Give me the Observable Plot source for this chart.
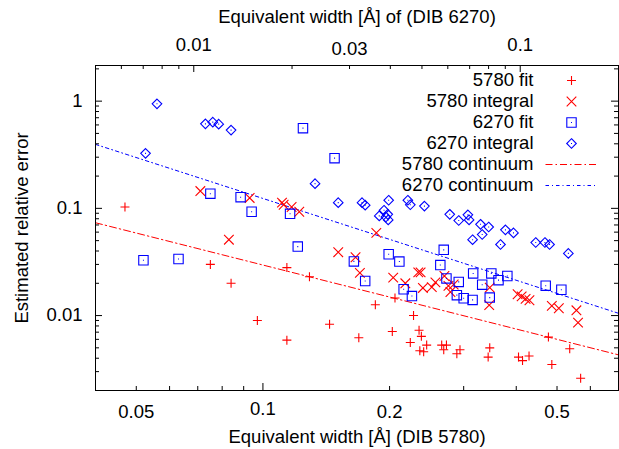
<!DOCTYPE html>
<html>
<head>
<meta charset="utf-8">
<script src="https://cdn.jsdelivr.net/npm/d3@7"></script>
<script src="https://cdn.jsdelivr.net/npm/@observablehq/plot@0.6"></script>
<style>
  body { margin: 0; background: #fff; }
  #chart svg { display: block; }
</style>
</head>
<body>
<div id="chart"></div>
<script>
// DIB 5780: equivalent width [Å] and estimated relative error, Gaussian fit
const fit5780W = [0.047, 0.075, 0.084, 0.097, 0.114, 0.114, 0.129, 0.144, 0.169, 0.185, 0.203,
  0.206, 0.228, 0.224, 0.235, 0.238, 0.236, 0.241, 0.245, 0.266, 0.273, 0.269, 0.294, 0.289,
  0.346, 0.343, 0.405, 0.414, 0.429, 0.477, 0.486, 0.536, 0.569];
const fit5780Err = [0.103, 0.030, 0.020, 0.0090, 0.0059, 0.028, 0.023, 0.0083, 0.0062, 0.0126, 0.0071,
  0.0146, 0.0100, 0.0056, 0.0073, 0.0064, 0.0047, 0.0046, 0.0053, 0.0053, 0.0053, 0.0048, 0.0048, 0.0044,
  0.0050, 0.0041, 0.0041, 0.0038, 0.0042, 0.0063, 0.0035, 0.0049, 0.0026];

// DIB 5780, direct integration
const int5780W = [0.071, 0.093, 0.083, 0.111, 0.112, 0.117, 0.122, 0.151, 0.166, 0.170, 0.186,
  0.204, 0.218, 0.234, 0.237, 0.240, 0.252, 0.257, 0.270, 0.276, 0.279, 0.284, 0.346, 0.345,
  0.403, 0.412, 0.421, 0.430, 0.486, 0.505, 0.556, 0.561];
const int5780Err = [0.145, 0.125, 0.051, 0.113, 0.108, 0.103, 0.093, 0.039, 0.035, 0.025, 0.059,
  0.0226, 0.020, 0.0253, 0.0253, 0.0181, 0.0184, 0.0204, 0.0234, 0.0189, 0.0166, 0.0195, 0.0182, 0.0125,
  0.0158, 0.0151, 0.0143, 0.0139, 0.0123, 0.0117, 0.0112, 0.0086];

// DIB 6270 errors, placed at the DIB 5780 width of the same sightline, Gaussian fit
const fit6270W = [0.052, 0.063, 0.075, 0.0885, 0.094, 0.116, 0.121, 0.1245, 0.148, 0.1645, 0.175,
  0.199, 0.211, 0.216, 0.226, 0.269, 0.264, 0.273, 0.292, 0.289, 0.300, 0.315, 0.316, 0.332,
  0.349, 0.363, 0.381, 0.346, 0.470, 0.512];
const fit6270Err = [0.0328, 0.0337, 0.137, 0.127, 0.093, 0.089, 0.044, 0.56, 0.294, 0.032, 0.021,
  0.0373, 0.0319, 0.0176, 0.0152, 0.041, 0.0296, 0.0222, 0.0206, 0.0155, 0.0145, 0.0140, 0.0247, 0.0194,
  0.0247, 0.0214, 0.0234, 0.0147, 0.0190, 0.0174];

// DIB 6270, direct integration
const int6270W = [0.0526, 0.056, 0.073, 0.076, 0.0785, 0.084, 0.133, 0.151, 0.172, 0.175, 0.199,
  0.221, 0.224, 0.242, 0.189, 0.194, 0.196, 0.198, 0.1985, 0.278, 0.292, 0.307, 0.309, 0.329,
  0.344, 0.332, 0.315, 0.377, 0.394, 0.367, 0.445, 0.468, 0.480, 0.532];
const int6270Err = [0.326, 0.944, 0.614, 0.637, 0.61, 0.537, 0.170, 0.113, 0.113, 0.107, 0.119,
  0.119, 0.108, 0.105, 0.085, 0.096, 0.083, 0.088, 0.078, 0.088, 0.077, 0.087, 0.078, 0.071,
  0.067, 0.057, 0.051, 0.063, 0.059, 0.046, 0.048, 0.048, 0.046, 0.038];

// Continuum-noise limits (straight lines in log-log space), end points
const cont5780W = [0.04, 0.7];
const cont5780Err = [0.0734, 0.0043];
const cont6270W = [0.04, 0.7];
const cont6270Err = [0.395, 0.0105];

// Axis ranges and ticks
const xDomain = [0.04, 0.7];         // DIB 5780 width, bottom axis
const topDomain = [0.005, 0.2];      // DIB 6270 width, top axis
const yDomain = [0.002, 2.15];
const bottomLabels = [0.05, 0.2, 0.5];
const bottomMajorLabels = [0.1];
const bottomMinorTicks = [0.05, 0.06, 0.07, 0.08, 0.09, 0.2, 0.3, 0.4, 0.5, 0.6];
const bottomMajorTicks = [0.1];
const topMajorLabels = [0.01, 0.1];
const topLabels = [0.03];
const topMinorTicks = [0.006, 0.007, 0.008, 0.009, 0.02, 0.03, 0.04, 0.05, 0.06, 0.07, 0.08, 0.09];
const topMajorTicks = [0.01, 0.1];
const yLabels = [0.01, 0.1, 1];
const yMajorTicks = [0.01, 0.1, 1];
const yMinorTicks = [0.003, 0.004, 0.005, 0.006, 0.007, 0.008, 0.009,
  0.02, 0.03, 0.04, 0.05, 0.06, 0.07, 0.08, 0.09,
  0.2, 0.3, 0.4, 0.5, 0.6, 0.7, 0.8, 0.9, 2];

const legendLabels = ["5780 fit", "5780 integral", "6270 fit", "6270 integral", "5780 continuum", "6270 continuum"];

const RED = "#ff0000";
const BLUE = "#0000ff";
const FONT = "'Liberation Sans', Arial, Helvetica, sans-serif";
const FS = 18.5;

const W = 619, H = 449;
const mL = 95, mR = 1, mT = 65, mB = 59;
const fw = W - mL - mR, fh = H - mT - mB;

// top axis shares the frame width: map a DIB 6270 width onto the bottom (DIB 5780) log scale
const toBottom = t => xDomain[0] * Math.pow(xDomain[1] / xDomain[0],
  Math.log(t / topDomain[0]) / Math.log(topDomain[1] / topDomain[0]));

const rows = (ws, es) => ws.map((w, i) => ({w, err: es[i]}));
const fit5780 = rows(fit5780W, fit5780Err);
const int5780 = rows(int5780W, int5780Err);
const fit6270 = rows(fit6270W, fit6270Err);
const int6270 = rows(int6270W, int6270Err);
const cont5780 = rows(cont5780W, cont5780Err);
const cont6270 = rows(cont6270W, cont6270Err);

// point symbols; r is the half extent
const rOf = size => Math.sqrt(size / Math.PI);
const plusSym = {draw(c, s) { const r = rOf(s); c.moveTo(-r, 0); c.lineTo(r, 0); c.moveTo(0, -r); c.lineTo(0, r); }};
const timesSym = {draw(c, s) { const r = rOf(s); c.moveTo(-r, -r); c.lineTo(r, r); c.moveTo(-r, r); c.lineTo(r, -r); }};
const boxSym = {draw(c, s) { const r = rOf(s); c.rect(-r, -r, 2 * r, 2 * r); c.moveTo(-0.5, 0); c.lineTo(0.5, 0); }};
const diamondSym = {draw(c, s) { const r = rOf(s); c.moveTo(0, -r); c.lineTo(r, 0); c.lineTo(0, r); c.lineTo(-r, 0); c.closePath(); c.moveTo(-0.5, 0); c.lineTo(0.5, 0); }};
const segSym = {draw(c, s) { const r = rOf(s); c.moveTo(-r, 0); c.lineTo(r, 0); }};

const series = [
  {data: fit5780, symbol: plusSym, r: 4.5, stroke: RED},
  {data: int5780, symbol: timesSym, r: 4.8, stroke: RED},
  {data: fit6270, symbol: boxSym, r: 4.7, stroke: BLUE},
  {data: int6270, symbol: diamondSym, r: 4.8, stroke: BLUE}
];
const DASH5780 = "7,3,1.5,3";
const DASH6270 = "3.5,3,1,3";

const txt = {fontFamily: FONT, fontSize: FS, fill: "black", lineAnchor: "middle"};

const legendMarks = legendLabels.flatMap((label, i) => {
  const dy = 15 + 21 * i;
  const marks = [Plot.text([label], {frameAnchor: "top-right", dx: -85, dy, text: d => d, textAnchor: "end", ...txt})];
  if (i < 4) {
    const s = series[i];
    marks.push(Plot.dot([label], {frameAnchor: "top-right", dx: -47, dy, symbol: s.symbol, r: s.r, stroke: s.stroke, fill: "none", strokeWidth: 1.1}));
  } else {
    marks.push(Plot.dot([label], {frameAnchor: "top-right", dx: -47, dy, symbol: segSym, r: 26,
      stroke: i === 4 ? RED : BLUE, fill: "none", strokeWidth: 1, strokeDasharray: i === 4 ? DASH5780 : DASH6270}));
  }
  return marks;
});

const chart = Plot.plot({
  width: W,
  height: H,
  marginLeft: mL, marginRight: mR, marginTop: mT, marginBottom: mB,
  style: {fontFamily: FONT, fontSize: FS + "px", background: "white", color: "black"},
  x: {type: "log", domain: xDomain, axis: null},
  y: {type: "log", domain: yDomain, axis: null},
  marks: [
    // continuum limits
    Plot.line(cont5780, {x: "w", y: "err", stroke: RED, strokeWidth: 1, strokeDasharray: DASH5780}),
    Plot.line(cont6270, {x: "w", y: "err", stroke: BLUE, strokeWidth: 1, strokeDasharray: DASH6270}),
    // measurements
    ...series.map(s => Plot.dot(s.data, {x: "w", y: "err", symbol: s.symbol, r: s.r, stroke: s.stroke, fill: "none", strokeWidth: 1.1})),
    // frame and inward ticks on all four sides
    Plot.frame({stroke: "black", strokeWidth: 1}),
    Plot.tickX(bottomMinorTicks, {x: d => d, insetTop: fh - 4, stroke: "black"}),
    Plot.tickX(bottomMajorTicks, {x: d => d, insetTop: fh - 7, stroke: "black"}),
    Plot.tickX(topMinorTicks.map(toBottom), {x: d => d, insetBottom: fh - 4, stroke: "black"}),
    Plot.tickX(topMajorTicks.map(toBottom), {x: d => d, insetBottom: fh - 7, stroke: "black"}),
    Plot.tickY(yMinorTicks, {y: d => d, insetRight: fw - 4, stroke: "black"}),
    Plot.tickY(yMinorTicks, {y: d => d, insetLeft: fw - 4, stroke: "black"}),
    Plot.tickY(yMajorTicks, {y: d => d, insetRight: fw - 7, stroke: "black"}),
    Plot.tickY(yMajorTicks, {y: d => d, insetLeft: fw - 7, stroke: "black"}),
    // tick labels
    Plot.text(bottomLabels, {x: d => d, text: d => String(d), frameAnchor: "bottom", dy: 22, ...txt}),
    Plot.text(bottomMajorLabels, {x: d => d, text: d => String(d), frameAnchor: "bottom", dy: 19, ...txt}),
    Plot.text(topMajorLabels, {x: d => toBottom(d), text: d => String(d), frameAnchor: "top", dy: -20, ...txt}),
    Plot.text(topLabels, {x: d => toBottom(d), text: d => String(d), frameAnchor: "top", dy: -16, ...txt}),
    Plot.text(yLabels, {y: d => d, text: d => String(d), frameAnchor: "left", dx: -13, textAnchor: "end", ...txt}),
    // axis titles
    Plot.text(["Equivalent width [Å] (DIB 5780)"], {frameAnchor: "bottom", dy: 47, text: d => d, ...txt}),
    Plot.text(["Equivalent width [Å] of (DIB 6270)"], {frameAnchor: "top", dy: -48, text: d => d, ...txt}),
    Plot.text(["Estimated relative error"], {frameAnchor: "left", dx: -73, rotate: -90, textAnchor: "middle", text: d => d, ...txt}),
    // key
    ...legendMarks
  ]
});

document.getElementById("chart").append(chart);
</script>
</body>
</html>
